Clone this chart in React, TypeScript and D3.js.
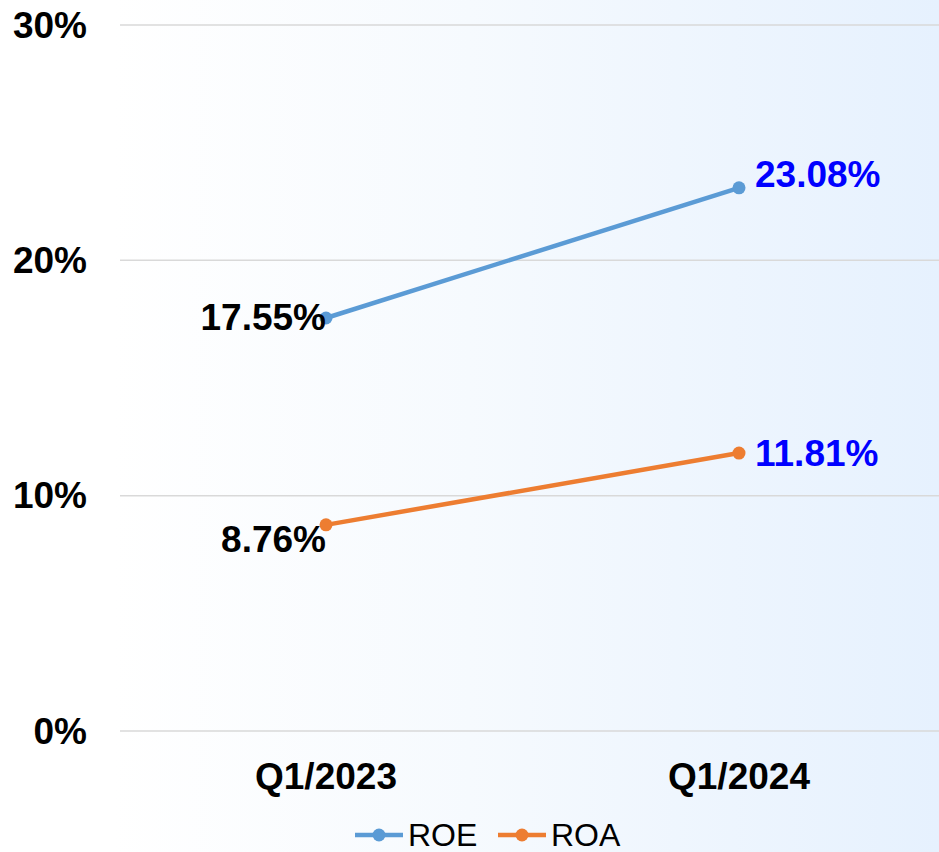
import React from "react";
import * as d3 from "d3";

const categories = ["Q1/2023", "Q1/2024"];
const roeValues = [17.55, 23.08];
const roaValues = [8.76, 11.81];
const yTicks = [0, 10, 20, 30];
const seriesNames = ["ROE", "ROA"];

const W = 939;
const H = 852;
const FONT = "'Liberation Sans', Arial, Helvetica, sans-serif";
const FS = 37;

export default function App() {
  const x = d3.scaleBand<string>().domain(categories).range([119.5, 945.5]).padding(0);
  const y = d3.scaleLinear().domain([0, 30]).range([731, 25]);
  const cx = (c: string) => (x(c) as number) + x.bandwidth() / 2;

  const line = d3
    .line<number>()
    .x((_, i) => cx(categories[i]))
    .y((d) => y(d));

  const series = [
    { name: seriesNames[0], values: roeValues, color: "#5B9BD5", dy: [0, -13] },
    { name: seriesNames[1], values: roaValues, color: "#ED7D31", dy: [15, 0] },
  ];

  return (
    <svg
      width={W}
      height={H}
      style={{ position: "absolute", left: 0, top: 0, display: "block" }}
      fontFamily={FONT}
    >
      <defs>
        <linearGradient id="bg" x1="0" y1="0" x2="1" y2="0">
          <stop offset="0" stopColor="#FFFFFF" />
          <stop offset="0.12" stopColor="#FFFFFF" />
          <stop offset="0.5" stopColor="#F6FAFE" />
          <stop offset="1" stopColor="#E6F1FE" />
        </linearGradient>
      </defs>
      <rect x={0} y={0} width={W} height={H} fill="url(#bg)" />

      {yTicks.map((t) => (
        <g key={t}>
          <line x1={120} x2={W} y1={y(t)} y2={y(t)} stroke="#D9D9D9" strokeWidth={1.5} />
          <text
            x={87}
            y={y(t)}
            textAnchor="end"
            dominantBaseline="central"
            fontSize={FS}
            fontWeight="bold"
            fill="#000"
          >
            {t}%
          </text>
        </g>
      ))}

      {categories.map((c) => (
        <text
          key={c}
          x={cx(c)}
          y={776}
          textAnchor="middle"
          dominantBaseline="central"
          fontSize={FS}
          fontWeight="bold"
          fill="#000"
        >
          {c}
        </text>
      ))}

      {series.map((s) => (
        <g key={s.name}>
          <path d={line(s.values) || ""} fill="none" stroke={s.color} strokeWidth={4.5} />
          {s.values.map((v, i) => (
            <circle key={i} cx={cx(categories[i])} cy={y(v)} r={6.5} fill={s.color} />
          ))}
          {s.values.map((v, i) => {
            const isFirst = i === 0;
            return (
              <text
                key={"l" + i}
                x={isFirst ? cx(categories[i]) : cx(categories[i]) + 16}
                y={y(v) + s.dy[i]}
                textAnchor={isFirst ? "end" : "start"}
                dominantBaseline="central"
                fontSize={FS}
                fontWeight="bold"
                fill={isFirst ? "#000000" : "#0000FF"}
              >
                {v.toFixed(2)}%
              </text>
            );
          })}
        </g>
      ))}

      {series.map((s, i) => {
        const lx = i === 0 ? 355 : 498;
        const ly = 835;
        return (
          <g key={"lg" + s.name}>
            <line x1={lx} x2={lx + 48} y1={ly} y2={ly} stroke={s.color} strokeWidth={4.5} />
            <circle cx={lx + 24} cy={ly} r={6.5} fill={s.color} />
            <text
              x={lx + 53}
              y={ly}
              dominantBaseline="central"
              fontSize={32}
              fill="#000"
            >
              {s.name}
            </text>
          </g>
        );
      })}
    </svg>
  );
}
